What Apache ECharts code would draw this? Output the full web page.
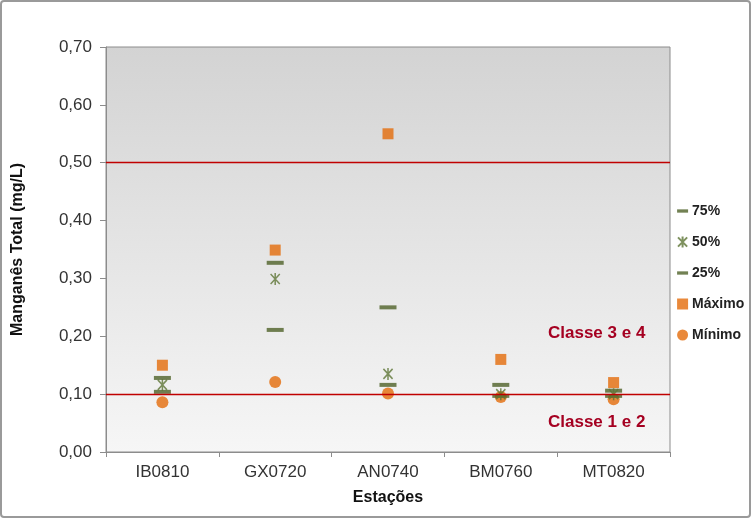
<!DOCTYPE html>
<html><head><meta charset="utf-8">
<script src="https://cdn.jsdelivr.net/npm/echarts@6/dist/echarts.min.js"></script>
<style>html,body{margin:0;padding:0;background:#fff}#c{width:752px;height:520px}</style>
</head><body><div id="c"></div>
<script>
const categories = ['IB0810','GX0720','AN0740','BM0760','MT0820'];
const p75 = [0.128, 0.327, 0.250, 0.116, 0.106];
const p50 = [0.116, 0.299, 0.135, 0.100, 0.100];
const p25 = [0.104, 0.211, 0.116, 0.097, 0.097];
const maximo = [0.150, 0.349, 0.550, 0.160, 0.120];
const minimo = [0.086, 0.121, 0.101, 0.095, 0.091];
const limits = [0.5, 0.1];
const yTicks = [0, 0.7, 0.1];

const dashIcon = 'path://M0,0 L10,0 L10,3 L0,3 Z';
const starPath = 'path://M0,0 L10,10 M10,0 L0,10 M5,-1 L5,11';
const fontF = '"Liberation Sans", Arial, sans-serif';

const chart = echarts.init(document.getElementById('c'), null, {renderer:'canvas'});
chart.setOption({
  animation:false,
  backgroundColor:'#fff',
  grid:{left:106, top:47, right:82, bottom:68, show:true,
    borderColor:'#8c8c8c', borderWidth:1,
    backgroundColor:new echarts.graphic.LinearGradient(0,0,0,1,[{offset:0,color:'#d3d3d3'},{offset:1,color:'#f6f6f6'}])},
  graphic:[
    {type:'rect', shape:{x:1,y:1,width:749,height:516,r:3}, style:{fill:'none',stroke:'#9a9a9a',lineWidth:2}, z:-1},
    {type:'text', left:548, top:325, style:{text:'Classe 3 e 4', fill:'#A50021', font:'bold 17px '+fontF}},
    {type:'text', left:548, top:414, style:{text:'Classe 1 e 2', fill:'#A50021', font:'bold 17px '+fontF}}
  ],
  legend:{orient:'vertical', left:672, top:199, itemGap:17, itemWidth:11, itemHeight:11,
    textStyle:{fontFamily:fontF, fontWeight:'bold', fontSize:14, color:'#222', padding:[0,0,0,-1]},
    data:[{name:'75%', icon:dashIcon},{name:'50%'},{name:'25%', icon:dashIcon},{name:'Máximo'},{name:'Mínimo'}]},
  xAxis:{type:'category', data:categories,
    name:'Estações', nameLocation:'middle', nameGap:38,
    nameTextStyle:{fontFamily:fontF, fontWeight:'bold', fontSize:16, color:'#111'},
    axisLine:{lineStyle:{color:'#8c8c8c'}},
    axisTick:{show:true, length:5, lineStyle:{color:'#8c8c8c'}},
    axisLabel:{fontFamily:fontF, fontSize:17, color:'#333', margin:12}},
  yAxis:{type:'value', min:yTicks[0], max:yTicks[1], interval:yTicks[2],
    name:'Manganês Total (mg/L)', nameLocation:'middle', nameGap:80,
    nameTextStyle:{fontFamily:fontF, fontWeight:'bold', fontSize:16, color:'#111'},
    axisLine:{show:true, lineStyle:{color:'#8c8c8c'}},
    axisTick:{show:true, length:6, lineStyle:{color:'#8c8c8c'}},
    splitLine:{show:false},
    axisLabel:{fontFamily:fontF, fontSize:17, color:'#333', margin:14,
      formatter:v=>v.toFixed(2).replace('.',',')}},
  series:[
    {name:'75%', type:'scatter', data:p75, symbol:'rect', symbolSize:[17,4],
     itemStyle:{color:'#4F6228'}, z:3},
    {name:'50%', type:'scatter', data:p50, symbol:starPath, symbolSize:[11,12], symbolKeepAspect:true,
     itemStyle:{color:'rgba(0,0,0,0)', borderColor:'#5E7536', borderWidth:1.6}, z:4},
    {name:'25%', type:'scatter', data:p25, symbol:'rect', symbolSize:[17,4],
     itemStyle:{color:'#4F6228'}, z:3},
    {name:'Máximo', type:'scatter', data:maximo, symbol:'rect', symbolSize:11,
     itemStyle:{color:'#E46C0A'}, z:2},
    {name:'Mínimo', type:'scatter', data:minimo, symbol:'circle', symbolSize:12,
     itemStyle:{color:'#E46C0A'}, z:2,
     markLine:{silent:true, symbol:'none', label:{show:false},
       lineStyle:{color:'#C00000', width:1.3, type:'solid'},
       data:limits.map(v=>({yAxis:v}))}}
  ]
});
</script></body></html>
